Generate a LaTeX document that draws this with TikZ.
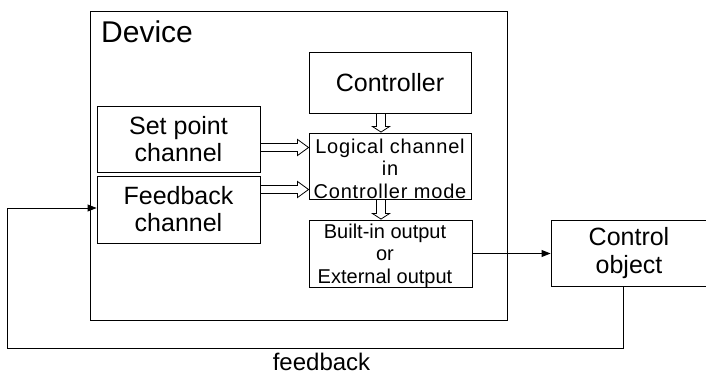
\documentclass[tikz,border=0pt]{standalone}
\usepackage{fontspec}
\setmainfont{Liberation Sans}
\usetikzlibrary{arrows.meta,calc}
\begin{document}
\begin{tikzpicture}[x=1pt,y=-1pt,
  box/.style={draw, line width=0.9pt, rectangle, inner sep=0pt, align=center},
  txt/.style={inner sep=0pt, align=center},
  bigtxt/.style={font=\fontsize{25}{27}\selectfont},
  conn/.style={line width=0.9pt, -{Triangle[length=9pt,width=7pt]}},
  hollow/.style n args={3}{draw, line width=0.8pt, fill=white, to path={
    let \p1=(\tikztostart), \p2=(\tikztotarget),
        \n1={veclen(\x2-\x1,\y2-\y1)}, \n2={(\x2-\x1)/\n1}, \n3={(\y2-\y1)/\n1} in
    (\x1-#1*\n3,\y1+#1*\n2) -- (\x2-#2*\n2-#1*\n3,\y2-#2*\n3+#1*\n2)
    -- (\x2-#2*\n2-#3*\n3,\y2-#2*\n3+#3*\n2) -- (\x2,\y2)
    -- (\x2-#2*\n2+#3*\n3,\y2-#2*\n3-#3*\n2) -- (\x2-#2*\n2+#1*\n3,\y2-#2*\n3-#1*\n2)
    -- (\x1+#1*\n3,\y1-#1*\n2) -- cycle}}]
\useasboundingbox (0,0) rectangle (706,374);
% device
\node[box, minimum width=417pt, minimum height=309pt] (dev) at (298.5,165.5) {};
\node[font=\fontsize{30}{36}\selectfont, anchor=base west, inner sep=0pt] (devlbl) at (101,43) {Device};
% boxes
\node[box, bigtxt, minimum width=162pt, minimum height=61pt] (ctrl) at (390,82.5) {Controller};
\node[box, minimum width=162pt, minimum height=66pt] (logic) at (390,166) {};
\node[txt, anchor=north, font=\fontsize{20}{22.5}\selectfont\addfontfeature{LetterSpace=4}] (logictxt)
      at (390,138.7) {Logical channel\\in\\Controller mode};
\node[box, minimum width=163pt, minimum height=67pt] (out) at (390.5,253.5) {};
\node[txt, anchor=north, font=\fontsize{20}{22.5}\selectfont] (outtxt) at (385,223.7)
      {Built-in output\\or\\External output};
\node[box, bigtxt, minimum width=163pt, minimum height=66pt] (sp) at (178.5,139) {Set point\\channel};
\node[box, bigtxt, minimum width=163pt, minimum height=67pt] (fb) at (178.5,209.5) {Feedback\\channel};
\node[box, font=\fontsize{25}{28}\selectfont, minimum width=156pt, minimum height=66pt] (co) at (629,253) {Control\\object};
% hollow arrows
\coordinate (a1) at (0,147.5);
\coordinate (a2) at (0,189.5);
\coordinate (av) at (381,0);
\path[hollow={4}{11}{8}] (sp.east |- a1) to (logic.west |- a1);
\path[hollow={4}{11}{8}] (fb.east |- a2) to (logic.west |- a2);
\path[hollow={4.5}{5.5}{8.5}] (ctrl.south -| av) to ([yshift=0.5pt]logic.north -| av);
\path[hollow={4.5}{5.5}{8.5}] (logic.south -| av) to ([yshift=0.5pt]out.north -| av);
% connectors
\draw[conn] (out.east) -- (out.east -| co.west);
\coordinate (fbc) at (623,348);
\coordinate (fbl) at (7,208);
\draw[conn] (co.south -| fbc) -- (fbc) -- (fbc -| fbl) -- (fbl) -- (fbl -| fb.west);
\node[font=\fontsize{24}{28}\selectfont, anchor=base, inner sep=0pt] (fblbl) at (321.5,370.5) {feedback};
\end{tikzpicture}
\end{document}
